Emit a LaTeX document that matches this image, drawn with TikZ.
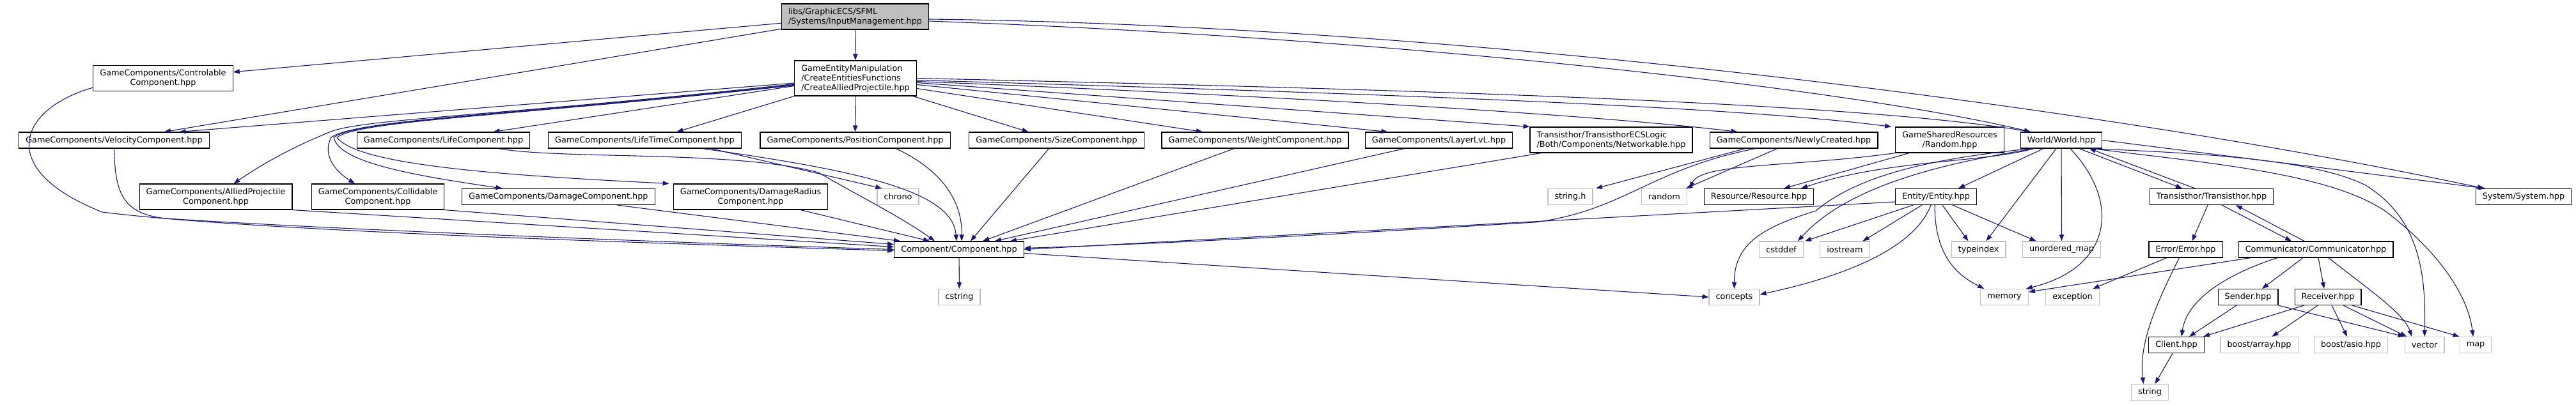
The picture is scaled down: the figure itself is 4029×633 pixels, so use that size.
\documentclass[tikz,border=0pt]{standalone}
\usepackage{fontspec}
\setmainfont{DejaVu Sans}
\usetikzlibrary{arrows.meta}
\definecolor{edgeblue}{RGB}{25,25,112}
\definecolor{sysgray}{RGB}{191,191,191}

\begin{document}
\begin{tikzpicture}[x=0.5pt, y=-0.5pt,
  hdr/.style={draw=black, fill=white, line width=0.6pt, inner xsep=5.3pt, inner ysep=1pt,
              minimum height=12.5pt, font=\fontsize{6.4pt}{7.5pt}\selectfont, align=center},
  hdrroot/.style={hdr, fill=sysgray},
  syshdr/.style={hdr, draw=sysgray},
  two/.style={minimum height=20pt},
  three/.style={minimum height=27.5pt},
  dep/.style={draw=edgeblue, line width=0.55pt, -{Triangle[length=5pt, width=3.6pt]}}]
  \useasboundingbox (0,0) rectangle (4029,633);

  % Root and first level
  \node[hdrroot, two, align=left] (inputmgmt) at (1337.5,26) {libs/GraphicECS/SFML\\/Systems/InputManagement.hpp};
  \node[hdr, two] (controlable) at (255,122.5) {GameComponents/Controlable\\Component.hpp};
  \node[hdr, three, align=left] (createallied) at (1338,122.5) {GameEntityManipulation\\/CreateEntitiesFunctions\\/CreateAlliedProjectile.hpp};

  % Components row
  \node[hdr] (velocity) at (178.5,219.5) {GameComponents/VelocityComponent.hpp};
  \node[hdr] (life) at (693.5,219.5) {GameComponents/LifeComponent.hpp};
  \node[hdr] (lifetime) at (1008.5,219.5) {GameComponents/LifeTimeComponent.hpp};
  \node[hdr] (position) at (1337.5,219.5) {GameComponents/PositionComponent.hpp};
  \node[hdr] (size) at (1652.5,219.5) {GameComponents/SizeComponent.hpp};
  \node[hdr] (weight) at (1963,219.5) {GameComponents/WeightComponent.hpp};
  \node[hdr] (layerlvl) at (2250.5,219.5) {GameComponents/LayerLvL.hpp};
  \node[hdr, two, align=left] (networkable) at (2520,219) {Transisthor/TransisthorECSLogic\\/Both/Components/Networkable.hpp};
  \node[hdr] (newlycreated) at (2805.5,219.5) {GameComponents/NewlyCreated.hpp};
  \node[hdr, two] (randomhpp) at (3049.5,219) {GameSharedResources\\/Random.hpp};
  \node[hdr] (world) at (3224,219.5) {World/World.hpp};

  % Third row
  \node[hdr, two] (allied) at (337.5,308) {GameComponents/AlliedProjectile\\Component.hpp};
  \node[hdr, two] (collidable) at (591,308) {GameComponents/Collidable\\Component.hpp};
  \node[hdr] (damage) at (873.5,308) {GameComponents/DamageComponent.hpp};
  \node[hdr, two] (damageradius) at (1174,308) {GameComponents/DamageRadius\\Component.hpp};
  \node[syshdr] (chrono) at (1404.5,308) {chrono};
  \node[syshdr] (stringh) at (2456,308) {string.h};
  \node[syshdr] (randomstd) at (2603,308) {random};
  \node[hdr] (resource) at (2751,308) {Resource/Resource.hpp};
  \node[hdr] (entity) at (3028,308) {Entity/Entity.hpp};
  \node[hdr] (transisthor) at (3459,308) {Transisthor/Transisthor.hpp};
  \node[hdr] (system) at (3947,308) {System/System.hpp};

  % Fourth row
  \node[hdr] (component) at (1500,390.5) {Component/Component.hpp};
  \node[syshdr] (cstddef) at (2786,390.5) {cstddef};
  \node[syshdr] (iostream) at (2885.5,390.5) {iostream};
  \node[syshdr] (typeindex) at (3094.5,390.5) {typeindex};
  \node[syshdr] (unorderedmap) at (3224.5,390.5) {unordered\_map};
  \node[hdr] (error) at (3418.5,390.5) {Error/Error.hpp};
  \node[hdr] (communicator) at (3622,390.5) {Communicator/Communicator.hpp};

  % Fifth row
  \node[syshdr] (cstring) at (1500.5,465) {cstring};
  \node[syshdr] (concepts) at (2712.5,465) {concepts};
  \node[syshdr] (memory) at (3135,465) {memory};
  \node[syshdr] (exception) at (3241.5,465) {exception};
  \node[hdr] (sender) at (3516,465) {Sender.hpp};
  \node[hdr] (receiver) at (3641,465) {Receiver.hpp};

  % Bottom rows
  \node[hdr] (client) at (3404,540) {Client.hpp};
  \node[syshdr] (boostarray) at (3533.5,540) {boost/array.hpp};
  \node[syshdr] (boostasio) at (3677,540) {boost/asio.hpp};
  \node[syshdr] (vector) at (3792,540) {vector};
  \node[syshdr] (stdmap) at (3872,540) {map};
  \node[syshdr] (stdstring) at (3362.5,614) {string};

  % Root includes
  \draw[dep] (inputmgmt) -- (controlable);
  \draw[dep] (inputmgmt) -- (velocity);
  \draw[dep] (inputmgmt) -- (createallied);
  \draw[dep] ([yshift=-3.5pt]inputmgmt.east) .. controls (2200,60) and (2900,140) .. ([xshift=-24pt]world.north);
  \draw[dep] ([yshift=-2pt]inputmgmt.east) .. controls (2300,40) and (3300,170) .. ([xshift=-31pt]system.north);

  % CreateAlliedProjectile includes
  \draw[dep] ([yshift=-3.75pt]createallied.west) -- ([xshift=51pt]velocity.north);
  \draw[dep] ([yshift=-6pt]createallied.west) -- ([xshift=39pt]life.north);
  \draw[dep] (createallied.south west) -- ([xshift=25pt]lifetime.north);
  \draw[dep] (createallied) -- (position);
  \draw[dep] ([xshift=-3pt]createallied.south east) -- ([xshift=-22pt]size.north);
  \draw[dep] ([yshift=-8pt]createallied.east) -- ([xshift=-41pt]weight.north);
  \draw[dep] ([yshift=-5pt]createallied.east) -- ([xshift=-40pt]layerlvl.north);
  \draw[dep] ([yshift=-3.5pt]createallied.east) -- (networkable.north west);
  \draw[dep] ([yshift=-2.5pt]createallied.east) .. controls (2000,150) and (2500,180) .. ([xshift=-44pt]newlycreated.north);
  \draw[dep] ([yshift=-1.5pt]createallied.east) .. controls (2100,145) and (2700,165) .. ([xshift=-3pt]randomhpp.north west);
  \draw[dep] (createallied.east) .. controls (2200,140) and (2900,160) .. ([xshift=-24pt]world.north);
  \draw[dep] ([yshift=-4.5pt]createallied.west) .. controls (800,180) and (580,185) .. (520,205)
             .. controls (470,225) and (420,250) .. ([xshift=14pt]allied.north);
  \draw[dep] ([yshift=-5pt]createallied.west) .. controls (800,181) and (560,186) .. (518,215)
             .. controls (505,240) and (520,265) .. ([xshift=-18pt]collidable.north);
  \draw[dep] ([yshift=-5.5pt]createallied.west) .. controls (800,182) and (560,187) .. (522,215)
             .. controls (530,255) and (650,275) .. ([xshift=-44pt]damage.north);
  \draw[dep] ([yshift=-5.5pt]createallied.west) .. controls (800,182) and (565,188) .. (527,215)
             .. controls (560,260) and (800,275) .. ([xshift=-3pt]damageradius.north west);

  % Into Component
  \draw[dep] ([yshift=3pt]controlable.south west) .. controls (30,170) and (-10,265) .. (160,332)
             .. controls (400,362) and (1000,380) .. ([yshift=-1pt]component.west);
  \draw[dep] (velocity.south) .. controls (180,300) and (190,335) .. (260,342)
             .. controls (500,358) and (1000,378) .. (component.west);
  \draw[dep] (allied.south east) -- ([yshift=2pt]component.west);
  \draw[dep] (collidable.south east) -- ([yshift=4pt]component.west);
  \draw[dep] ([xshift=46pt]damage.south) -- ([xshift=-46pt]component.north);
  \draw[dep] ([xshift=39pt]damageradius.south) -- ([xshift=-23pt]component.north);
  \draw[dep] ([xshift=43pt]life.south) .. controls (880,250) and (1150,235) .. (1280,270)
             .. controls (1340,305) and (1410,340) .. ([xshift=-19pt]component.north);
  \draw[dep] ([xshift=45pt]lifetime.south) .. controls (1350,268) and (1490,300) .. ([xshift=-2pt]component.north);
  \draw[dep] ([xshift=52pt]lifetime.south) -- ([xshift=4pt]chrono.north west);
  \draw[dep] ([xshift=32pt]position.south) .. controls (1480,270) and (1505,320) .. ([xshift=2pt]component.north);
  \draw[dep] ([xshift=-6pt]size.south) -- ([xshift=9pt]component.north);
  \draw[dep] ([xshift=-16.5pt]weight.south) -- ([xshift=18.5pt]component.north);
  \draw[dep] ([xshift=-27pt]layerlvl.south) -- ([xshift=28pt]component.north);
  \draw[dep] ([xshift=9pt]networkable.south west) -- ([xshift=-11pt]component.north east);
  \draw[dep] ([xshift=-30pt]newlycreated.south) .. controls (2580,265) and (2540,330) .. (2400,348)
             .. controls (2000,372) and (1800,382) .. ([yshift=1pt]component.east);
  \draw[dep] ([yshift=-4pt]entity.west) -- (component.east);
  \draw[dep] (component) -- (cstring);
  \draw[dep] ([yshift=-3pt]component.east) -- (concepts.west);

  % NewlyCreated, Random
  \draw[dep] ([xshift=-38pt]newlycreated.south) -- ([xshift=20pt]stringh.north);
  \draw[dep] ([xshift=-13pt]newlycreated.south) -- ([xshift=17pt]randomstd.north);
  \draw[dep] (randomhpp.south west) .. controls (2800,262) and (2660,255) .. ([xshift=20pt]randomstd.north);
  \draw[dep] ([xshift=11pt]randomhpp.south west) -- ([xshift=19.5pt]resource.north);

  % World includes
  \draw[dep] ([xshift=-21.5pt]world.south) .. controls (3100,255) and (2950,250) .. ([xshift=33pt]resource.north);
  \draw[dep] ([xshift=-21.5pt]world.south) .. controls (3080,250) and (2900,280) .. ([xshift=13pt]cstddef.north);
  \draw[dep] ([xshift=-23pt]world.south) .. controls (3000,250) and (2900,280) .. (2840,330)
             .. controls (2760,355) and (2712,380) .. (concepts.north);
  \draw[dep] ([xshift=-14pt]world.south) -- ([xshift=17.5pt]entity.north);
  \draw[dep] ([xshift=-4pt]world.south) -- ([xshift=6pt]typeindex.north);
  \draw[dep] (world.south) -- (unorderedmap.north);
  \draw[dep] ([xshift=7pt]world.south) .. controls (3320,320) and (3300,420) .. ([xshift=-2pt]memory.north east);
  \draw[dep] ([xshift=14pt]world.south) -- ([xshift=-23pt]transisthor.north);
  \draw[dep] ([xshift=-13pt]transisthor.north) -- ([xshift=22pt]world.south);
  \draw[dep] (world.east) -- ([xshift=-30pt]system.north);
  \draw[dep] ([xshift=23pt]world.south) .. controls (3450,240) and (3620,250) .. (3700,290)
             .. controls (3780,340) and (3795,420) .. (vector.north);
  \draw[dep] ([xshift=24pt]world.south) .. controls (3450,255) and (3640,270) .. (3730,330)
             .. controls (3810,390) and (3860,460) .. ([xshift=-2pt]stdmap.north);

  % Entity includes
  \draw[dep] ([xshift=-18pt]entity.south) -- ([xshift=18.5pt]cstddef.north);
  \draw[dep] ([xshift=-11pt]entity.south) -- ([xshift=14pt]iostream.north);
  \draw[dep] ([xshift=-4pt]entity.south) .. controls (2990,400) and (2850,440) .. ([yshift=2pt]concepts.east);
  \draw[dep] ([xshift=-1pt]entity.south) .. controls (3026,400) and (3060,430) .. ([xshift=3pt]memory.north west);
  \draw[dep] ([xshift=5pt]entity.south) -- ([xshift=-8pt]typeindex.north);
  \draw[dep] ([xshift=13pt]entity.south) -- ([xshift=-20pt]unorderedmap.north);

  % Transisthor, Error, Communicator
  \draw[dep] ([xshift=-3pt]transisthor.south) -- ([xshift=5pt]error.north);
  \draw[dep] ([xshift=8pt]transisthor.south) -- ([xshift=-19pt]communicator.north);
  \draw[dep] ([xshift=-9pt]communicator.north) -- ([xshift=19pt]transisthor.south);
  \draw[dep] ([xshift=-15pt]error.south) -- ([xshift=16pt]exception.north);
  \draw[dep] ([xshift=-5pt]error.south) .. controls (3370,480) and (3345,540) .. ([xshift=-5pt]stdstring.north);
  \draw[dep] ([xshift=-51pt]communicator.south) -- ([yshift=4pt]memory.east);
  \draw[dep] ([xshift=-30pt]communicator.south) .. controls (3480,430) and (3420,470) .. ([xshift=4pt]client.north);
  \draw[dep] ([xshift=-10pt]communicator.south) -- ([xshift=11pt]sender.north);
  \draw[dep] ([xshift=2pt]communicator.south) -- ([xshift=-3pt]receiver.north);
  \draw[dep] ([xshift=10pt]communicator.south) .. controls (3700,450) and (3760,490) .. ([xshift=-10pt]vector.north);

  % Sender, Receiver, Client
  \draw[dep] ([xshift=-9pt]sender.south) -- ([xshift=10pt]client.north);
  \draw[dep] (sender.south east) -- (vector.north west);
  \draw[dep] ([xshift=-19pt]receiver.south) -- ([xshift=21pt]client.north);
  \draw[dep] ([xshift=-8pt]receiver.south) -- ([xshift=10pt]boostarray.north);
  \draw[dep] ([xshift=3pt]receiver.south) -- ([xshift=-3pt]boostasio.north);
  \draw[dep] ([xshift=12pt]receiver.south) -- ([xshift=-14pt]vector.north);
  \draw[dep] ([xshift=19pt]receiver.south) -- (stdmap.north west);
  \draw[dep] ([xshift=-3pt]client.south) -- ([xshift=4pt]stdstring.north);
\end{tikzpicture}
\end{document}
